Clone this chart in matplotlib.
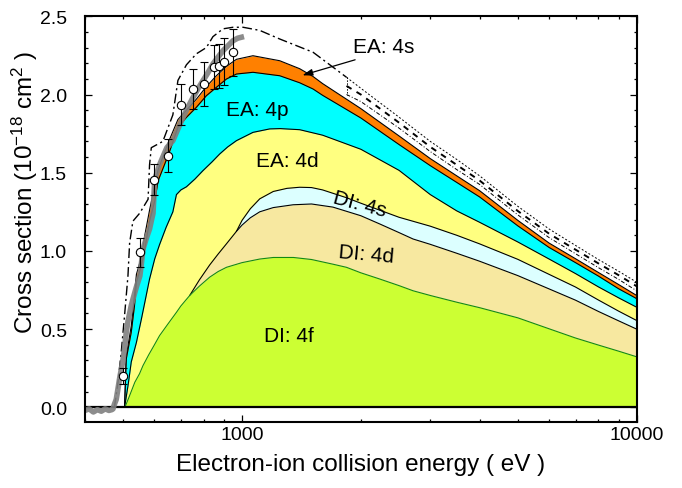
import numpy as np
import matplotlib.pyplot as plt
from matplotlib.ticker import LogLocator, FuncFormatter, MultipleLocator, NullFormatter

plt.rcParams['font.family'] = ['Liberation Sans', 'DejaVu Sans']
plt.rcParams['mathtext.default'] = 'regular'

# DI: 4f (bottom layer)
e_di4f = [505, 520, 535, 550, 561, 580, 600, 618, 650, 682, 700, 737, 780, 828, 870, 913, 1000,
          1109, 1200, 1350, 1500, 1700, 1840, 2000, 2235, 2500, 2714, 3000, 3500, 4000, 5000,
          6000, 7000, 8000, 9000, 10000]
di4f = [0, 0.08, 0.16, 0.215, 0.266, 0.335, 0.40, 0.458, 0.535, 0.607, 0.648, 0.715, 0.775, 0.832,
        0.868, 0.895, 0.925, 0.948, 0.958, 0.958, 0.945, 0.915, 0.895, 0.86, 0.82, 0.778, 0.745,
        0.715, 0.672, 0.637, 0.572, 0.502, 0.443, 0.398, 0.359, 0.323]

# DI: 4d (cumulative top)
e_di4d = [737, 780, 828, 870, 913, 968, 1000, 1050, 1109, 1200, 1347, 1500, 1700, 2000, 2235,
          2500, 2714, 3000, 3500, 4000, 5000, 6000, 7000, 8000, 9000, 10000]
di4d = [0.715, 0.815, 0.91, 0.98, 1.045, 1.125, 1.165, 1.212, 1.25, 1.277, 1.295, 1.30, 1.28,
        1.225, 1.172, 1.117, 1.076, 1.042, 0.985, 0.934, 0.842, 0.757, 0.685, 0.613, 0.553, 0.50]

# DI: 4s (cumulative top)
e_di4s = [968, 1000, 1050, 1109, 1200, 1300, 1400, 1500, 1600, 1840, 2000, 2500, 3000, 3500,
          4000, 5000, 6000, 7000, 8000, 9000, 10000]
di4s = [1.125, 1.195, 1.27, 1.333, 1.38, 1.40, 1.407, 1.405, 1.39, 1.34, 1.305, 1.215, 1.158,
        1.10, 1.045, 0.946, 0.85, 0.769, 0.686, 0.615, 0.555]

# EA: 4d (cumulative top)
e_ea4d = [504, 515, 524, 540, 556, 567, 583, 601, 618, 642, 668, 682, 700, 723, 760, 796, 840,
          878, 920, 968, 1066, 1175, 1250, 1400, 1600, 2000, 2500, 3000, 3500, 4000, 5000, 6000,
          7000, 8000, 9000, 10000]
ea4d = [0, 0.15, 0.29, 0.415, 0.565, 0.67, 0.82, 0.95, 1.04, 1.15, 1.25, 1.36, 1.39, 1.41, 1.46,
        1.513, 1.57, 1.62, 1.665, 1.705, 1.758, 1.78, 1.782, 1.775, 1.74, 1.65, 1.515, 1.36,
        1.256, 1.183, 1.057, 0.948, 0.855, 0.77, 0.70, 0.64]

# EA: 4p (cumulative top)
e_ea4p = [504, 509, 524, 534, 540, 556, 567, 583, 601, 613, 652, 688, 723, 766, 812, 861, 913,
          968, 1066, 1246, 1400, 1514, 1600, 2000, 2500, 3000, 3500, 4000, 5000, 6000, 7000,
          8000, 9000, 10000]
ea4p = [0, 0.31, 0.48, 0.65, 0.80, 0.905, 1.01, 1.19, 1.32, 1.449, 1.62, 1.79, 1.854, 1.918,
        1.992, 2.046, 2.099, 2.131, 2.142, 2.12, 2.075, 2.035, 1.995, 1.85, 1.68, 1.545, 1.438,
        1.345, 1.16, 1.022, 0.925, 0.839, 0.758, 0.695]

# EA: 4s (cumulative top = total EA)
e_ea4s = [504, 509, 524, 534, 540, 556, 567, 583, 601, 613, 652, 688, 723, 766, 812, 861, 913,
          968, 1066, 1246, 1400, 1514, 1600, 2000, 2500, 3000, 3500, 4000, 5000, 6000, 7000,
          8000, 9000, 10000]
ea4s = [0, 0.33, 0.52, 0.72, 0.85, 0.96, 1.10, 1.26, 1.42, 1.52, 1.70, 1.84, 1.90, 1.97, 2.05,
        2.12, 2.18, 2.225, 2.248, 2.216, 2.165, 2.115, 2.07, 1.91, 1.735, 1.59, 1.48, 1.385,
        1.195, 1.05, 0.95, 0.862, 0.785, 0.715]

# total theory, dash-dot
e_tot = [475, 485, 495, 504, 514, 519, 529, 550, 578, 583, 589, 630, 668, 688, 723, 766, 812,
         844, 895, 949, 1006, 1109, 1246, 1514, 1840]
tot = [0, 0.16, 0.37, 0.59, 0.84, 1.05, 1.19, 1.24, 1.33, 1.55, 1.66, 1.70, 1.87, 2.09, 2.19,
       2.26, 2.30, 2.37, 2.42, 2.43, 2.43, 2.41, 2.355, 2.27, 2.11]

# high energy variants above 1840 eV
e_hi = [1840, 2000, 2500, 3000, 3500, 4000, 5000, 6000, 7000, 8000, 9000, 10000]
hi_top = [2.11, 2.04, 1.855, 1.70, 1.585, 1.48, 1.285, 1.14, 1.035, 0.945, 0.87, 0.80]
hi_mid = [2.055, 2.0, 1.82, 1.665, 1.55, 1.45, 1.255, 1.11, 1.008, 0.92, 0.845, 0.774]
hi_low = [2.0, 1.955, 1.785, 1.635, 1.52, 1.425, 1.23, 1.085, 0.982, 0.893, 0.818, 0.745]

# experiment (continuous scan)
e_scan = [400, 410, 420, 430, 440, 450, 460, 468, 471, 475, 480, 485, 490, 495, 499, 504, 509,
          514, 519, 524, 529, 540, 551, 556, 561, 572, 583, 590, 595, 601, 607, 618, 630, 645,
          668, 688, 709, 730, 751, 775, 797, 820, 844, 870, 895, 920, 949, 975, 996]
scan = [-0.02, -0.01, -0.03, -0.015, -0.025, -0.01, -0.02, -0.015, -0.01, 0.02, 0.05, 0.12,
        0.19, 0.25, 0.30, 0.38, 0.48, 0.55, 0.60, 0.65, 0.69, 0.77, 0.84, 0.92, 1.01, 1.08,
        1.14, 1.20, 1.24, 1.46, 1.49, 1.55, 1.60, 1.66, 1.705, 1.78, 1.854, 1.92, 1.98, 2.04,
        2.09, 2.14, 2.195, 2.24, 2.28, 2.31, 2.344, 2.36, 2.366]

# experiment (points with error bars)
e_pts = [500, 550, 600, 650, 700, 750, 800, 850, 875, 900, 950]
pts = [0.20, 0.99, 1.455, 1.61, 1.935, 2.035, 2.065, 2.175, 2.18, 2.21, 2.27]
err = [0.05, 0.09, 0.10, 0.105, 0.13, 0.13, 0.14, 0.14, 0.14, 0.15, 0.15]

fig = plt.figure(figsize=(6.82, 4.89), dpi=100)
ax = fig.add_axes([0.1246, 0.1356, 0.8089, 0.8290])

layers = [
    (e_ea4s, ea4s, '#ff8000', 'black'),
    (e_ea4p, ea4p, '#00ffff', 'black'),
    (e_ea4d, ea4d, '#ffff80', 'black'),
    (e_di4s, di4s, '#dcffff', 'black'),
    (e_di4d, di4d, '#f7e8a0', 'black'),
    (e_di4f, di4f, '#ccff33', '#138a13'),
]
for i, (e, v, fc, ec) in enumerate(layers):
    ax.fill_between(e, 0, v, color=fc, lw=0, zorder=1 + i)
    ax.plot(e, v, color=ec, lw=0.8, zorder=1 + i)

ax.axhline(0, color='black', lw=1.6, zorder=8)

ax.plot(e_tot, tot, color='black', lw=1.0, ls=(0, (7, 2.5, 1.5, 2.5)), zorder=9)
ax.plot([e_hi[0], e_hi[0]], [hi_top[0], hi_low[0]], color='black', lw=0.7, ls=(0, (1.5, 1.5)), zorder=9)
ax.plot(e_hi, hi_top, color='black', lw=0.7, ls=(0, (2, 2)), zorder=9)
ax.plot(e_hi, hi_mid, color='black', lw=1.4, ls=(0, (3, 3)), zorder=9)
ax.plot(e_hi, hi_low, color='black', lw=0.7, ls=(0, (4, 2, 1, 2)), zorder=9)

ax.plot(e_scan, scan, color='#808080', lw=4, alpha=0.9, zorder=10)

ax.errorbar(e_pts, pts, yerr=err, fmt='o', color='black', ecolor='black', elinewidth=0.8,
            capsize=3, capthick=0.8, markerfacecolor='white', markeredgecolor='black',
            markersize=6, markeredgewidth=0.8, zorder=11)

ax.text(2279, 2.307, 'EA: 4s', ha='center', va='center', fontsize=15, zorder=12)
ax.annotate('', xy=(1401, 2.118), xytext=(1965, 2.227),
            arrowprops=dict(arrowstyle='-|>,head_length=0.6,head_width=0.2', color='black',
                            lw=0.9), zorder=12)
ax.text(1096, 1.907, 'EA: 4p', ha='center', va='center', fontsize=15, zorder=12)
ax.text(1306, 1.581, 'EA: 4d', ha='center', va='center', fontsize=15, zorder=12)
ax.text(1988, 1.30, 'DI: 4s', ha='center', va='center', fontsize=15, rotation=-15, zorder=12)
ax.text(2059, 0.98, 'DI: 4d', ha='center', va='center', fontsize=15, rotation=-5, zorder=12)
ax.text(1313, 0.456, 'DI: 4f', ha='center', va='center', fontsize=15, zorder=12)

ax.set_xscale('log')
ax.set_xlim(400, 10000)
ax.set_ylim(-0.092, 2.5)
ax.xaxis.set_major_locator(LogLocator(base=10))
ax.xaxis.set_minor_locator(LogLocator(base=10, subs=np.arange(2, 10)))
ax.xaxis.set_major_formatter(FuncFormatter(lambda v, p: f'{v:.0f}'))
ax.xaxis.set_minor_formatter(NullFormatter())
ax.yaxis.set_major_locator(MultipleLocator(0.5))
ax.yaxis.set_minor_locator(MultipleLocator(0.1))
ax.yaxis.set_major_formatter(FuncFormatter(lambda v, p: f'{v:.1f}'))

ax.tick_params(which='both', direction='in', top=True, right=True, width=0.9, labelsize=14)
ax.tick_params(which='major', length=5)
ax.tick_params(which='minor', length=2.5)
ax.tick_params(axis='y', pad=13)
ax.tick_params(axis='x', pad=3)
for s in ax.spines.values():
    s.set_linewidth(1.5)
    s.set_zorder(13)

ax.set_xlabel('Electron-ion collision energy ( eV )', fontsize=17.5, labelpad=7)
ax.set_ylabel('Cross section (10$^{-18}$ cm$^{2}$ )', fontsize=17.5)
ax.yaxis.set_label_coords(-0.082, 0.567)

plt.savefig('out.png', dpi=100)
